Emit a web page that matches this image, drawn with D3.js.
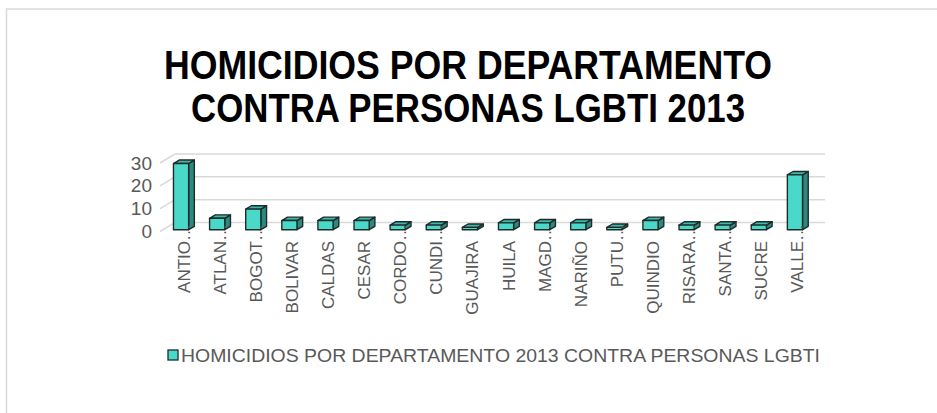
<!DOCTYPE html>
<html><head><meta charset="utf-8">
<script src="https://cdn.jsdelivr.net/npm/d3@7"></script>
<style>html,body{margin:0;padding:0;background:#fff;}svg{display:block;}</style>
</head><body>
<svg id="c" width="937" height="413"></svg>
<script>
const titleLines = ["HOMICIDIOS POR DEPARTAMENTO", "CONTRA PERSONAS LGBTI 2013"];
const categories = ["ANTIO…","ATLAN…","BOGOT…","BOLIVAR","CALDAS","CESAR","CORDO…","CUNDI…","GUAJIRA","HUILA","MAGD…","NARIÑO","PUTU…","QUINDIO","RISARA…","SANTA…","SUCRE","VALLE…"];
const values = [29,5,9,4,4,4,2,2,1,3,3,3,1,4,2,2,2,24];
const yTicks = [0,10,20,30];
const seriesName = "HOMICIDIOS POR DEPARTAMENTO 2013 CONTRA PERSONAS LGBTI";

const svg = d3.select("#c");
const W = 937, H = 413;
// chart border
svg.append("rect").attr("x",6.5).attr("y",9).attr("width",W).attr("height",H)
  .attr("fill","none").attr("stroke","#d9d9d9").attr("stroke-width",1.5);

// title
const tl = svg.append("g").attr("font-family","Liberation Sans, Arial, sans-serif")
  .attr("font-weight","bold").attr("font-size",40).attr("fill","#000").attr("text-anchor","middle");
const titleY = [79, 122], titleW = [608, 554];
titleLines.forEach((t,i)=>{
  tl.append("text").attr("x",468).attr("y",titleY[i]).attr("textLength",titleW[i])
    .attr("lengthAdjust","spacingAndGlyphs").text(t);
});

// scales (back wall)
const x = d3.scaleBand().domain(categories).range([175,825]).padding(0);
const y = d3.scaleLinear().domain([0,30]).range([222.5,154]);
const DX = -15, DY = 9;          // full depth vector (back -> front)
const fF = 0.8, fB = 0.42;       // bar front / back depth fractions
const P = (xb,yb,f)=>[xb+f*DX, yb+f*DY];

// gridlines
const grid = svg.append("g").attr("stroke","#d9d9d9").attr("stroke-width",1.5).attr("fill","none");
yTicks.forEach(t=>{
  const yb = y(t);
  const a = P(175,yb,1);
  grid.append("path").attr("d",`M${a[0]},${a[1]}L175,${yb}L825,${yb}`);
});

// y axis labels
svg.append("g").attr("font-family","Liberation Sans, Arial, sans-serif").attr("font-size",19)
  .attr("fill","#595959").attr("text-anchor","end")
  .selectAll("text").data(yTicks).join("text")
  .attr("x",152).attr("y",d=>y(d)+DY).attr("dominant-baseline","central").text(d=>d);

// bars
const hw = x.bandwidth()*0.21;
const bars = svg.append("g").attr("stroke","#1e2b2a").attr("stroke-width",1.4).attr("stroke-linejoin","round");
const poly = pts => "M"+pts.map(p=>p.join(",")).join("L")+"Z";
categories.forEach((c,i)=>{
  const cx = x(c)+x.bandwidth()/2, v = values[i];
  const yt = y(v), y0 = y(0);
  bars.append("path").attr("fill","#2b8a80")
    .attr("d",poly([P(cx+hw,yt,fF),P(cx+hw,yt,fB),P(cx+hw,y0,fB),P(cx+hw,y0,fF)]));
  bars.append("path").attr("fill","#3cb8aa")
    .attr("d",poly([P(cx-hw,yt,fF),P(cx+hw,yt,fF),P(cx+hw,yt,fB),P(cx-hw,yt,fB)]));
  bars.append("path").attr("fill","#4ad9c9")
    .attr("d",poly([P(cx-hw,yt,fF),P(cx+hw,yt,fF),P(cx+hw,y0,fF),P(cx-hw,y0,fF)]));
});

// category labels (rotated)
const lab = svg.append("g").attr("font-family","Liberation Sans, Arial, sans-serif").attr("font-size",17)
  .attr("fill","#595959");
const probe = lab.append("text").text("…");
const ellW = probe.node().getComputedTextLength();
probe.remove();
categories.forEach((c,i)=>{
  const cx = x(c)+x.bandwidth()/2 + fF*DX + 3;
  const trunc = c.endsWith("…");
  const yEnd = 241 - (trunc ? ellW : 0);
  lab.append("text").attr("transform",`translate(${cx},${yEnd}) rotate(-90)`)
    .attr("text-anchor","end").attr("dominant-baseline","central").text(c);
});

// legend
svg.append("rect").attr("x",168).attr("y",350).attr("width",10).attr("height",10)
  .attr("fill","#4ad9c9").attr("stroke","#1e2b2a").attr("stroke-width",1.3);
svg.append("text").attr("x",181).attr("y",356).attr("dominant-baseline","central")
  .attr("font-family","Liberation Sans, Arial, sans-serif").attr("font-size",17.5).attr("fill","#595959")
  .attr("textLength",639).attr("lengthAdjust","spacingAndGlyphs").text(seriesName);
</script>
</body></html>
